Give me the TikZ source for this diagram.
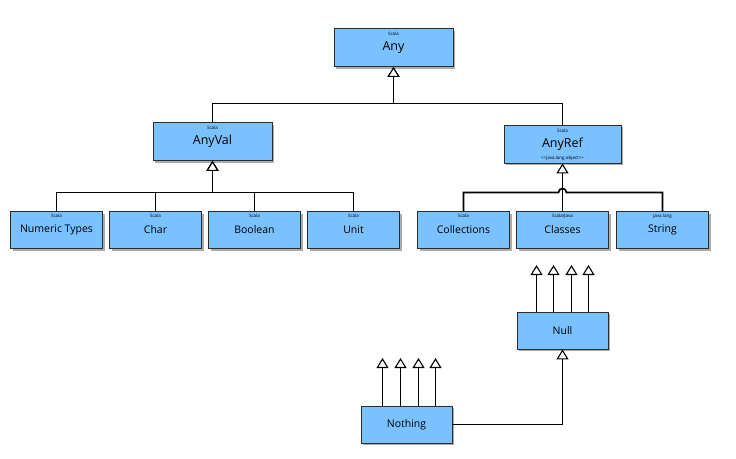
\documentclass[tikz,border=0pt]{standalone}
\usepackage{fontspec}
\setmainfont{Open Sans}
\usetikzlibrary{arrows.meta,shadows}
\definecolor{boxblue}{RGB}{121,193,255}
\definecolor{edgegray}{RGB}{45,45,45}
\begin{document}
\begin{tikzpicture}[x=1pt,y=-1pt,
  typebox/.style={draw=edgegray, line width=0.9pt, fill=boxblue,
    general shadow={fill=gray!65, shadow xshift=2pt, shadow yshift=-2pt},
    inner sep=0pt, font=\fontsize{10.5}{12}\selectfont},
  bigbox/.style={typebox, minimum width=119pt, minimum height=38pt, font=\fontsize{12.5}{14}\selectfont},
  smallbox/.style={typebox, minimum width=92pt, minimum height=37pt},
  sub/.style={font=\fontsize{4.5}{5}\selectfont, inner sep=0pt, anchor=north},
  line/.style={draw=black, line width=1.7pt},
  inh/.style={line, -{Triangle[width=12pt,length=10pt,fill=white,line width=1.1pt]}}]
\useasboundingbox (0,0) rectangle (736,458);

% top level
\node[bigbox] (any) at (393.5,47.5) {Any};
\node[sub] at ([yshift=-4pt]any.north) {Scala};

% value and reference roots
\node[bigbox] (anyval) at (212.5,141.5) {AnyVal};
\node[sub] at ([yshift=-4pt]anyval.north) {Scala};
\node[bigbox, minimum width=117pt] (anyref) at (562.5,144) {AnyRef};
\node[sub] at ([yshift=-4pt]anyref.north) {Scala};
\node[sub, anchor=south] at ([yshift=3pt]anyref.south) {<{}<java.lang.object>{}>};

% value types
\node[smallbox] (numeric) at (56.5,230) {Numeric Types};
\node[sub] at ([yshift=-3pt]numeric.north) {Scala};
\node[smallbox] (char) at (155.5,230) {Char};
\node[sub] at ([yshift=-3pt]char.north) {Scala};
\node[smallbox] (boolean) at (254.5,230) {Boolean};
\node[sub] at ([yshift=-3pt]boolean.north) {Scala};
\node[smallbox] (unit) at (353.5,230) {Unit};
\node[sub] at ([yshift=-3pt]unit.north) {Scala};

% reference types
\node[smallbox] (collections) at (463.5,230) {Collections};
\node[sub] at ([yshift=-3pt]collections.north) {Scala};
\node[smallbox] (classes) at (562.5,230) {Classes};
\node[sub] at ([yshift=-3pt]classes.north) {Scala/Java};
\node[smallbox] (string) at (662.5,230) {String};
\node[sub] at ([yshift=-3pt]string.north) {java.lang};

% bottom types
\node[smallbox, minimum width=91pt] (null) at (562.5,330.5) {Null};
\node[smallbox, minimum width=91pt] (nothing) at (406.5,424.5) {Nothing};

% junction points
\coordinate (jtop) at (393.5,103.5);
\coordinate (jval) at (212.5,192.5);

% Any hierarchy
\draw[inh] (anyval.north) |- (jtop) -- (any.south);
\draw[inh] (anyref.north) |- (jtop) -- (any.south);

% AnyVal hierarchy
\draw[inh] (numeric.north) |- (jval) -- (anyval.south);
\draw[inh] (char.north) |- (jval) -- (anyval.south);
\draw[inh] (boolean.north) |- (jval) -- (anyval.south);
\draw[inh] (unit.north) |- (jval) -- (anyval.south);

% AnyRef hierarchy, bus hops over the Classes line
\draw[inh] (classes.north) -- (anyref.south);
\draw[line] (collections.north) |- (558.5,192.5) arc[start angle=180,end angle=0,radius=4pt] -| (string.north);

% Null subtypes all reference types
\foreach \x/\n in {536.5/a,553.5/b,571.5/c,588.5/d}{
  \coordinate (nt\n) at (\x,265);
  \draw[inh] (null.north -| nt\n) -- (nt\n);
}
% Nothing subtypes everything
\foreach \x/\n in {382.5/a,400.5/b,418.5/c,435.5/d}{
  \coordinate (ot\n) at (\x,358);
  \draw[inh] (nothing.north -| ot\n) -- (ot\n);
}
\draw[inh] (nothing.east) -| (null.south);
\end{tikzpicture}
\end{document}
